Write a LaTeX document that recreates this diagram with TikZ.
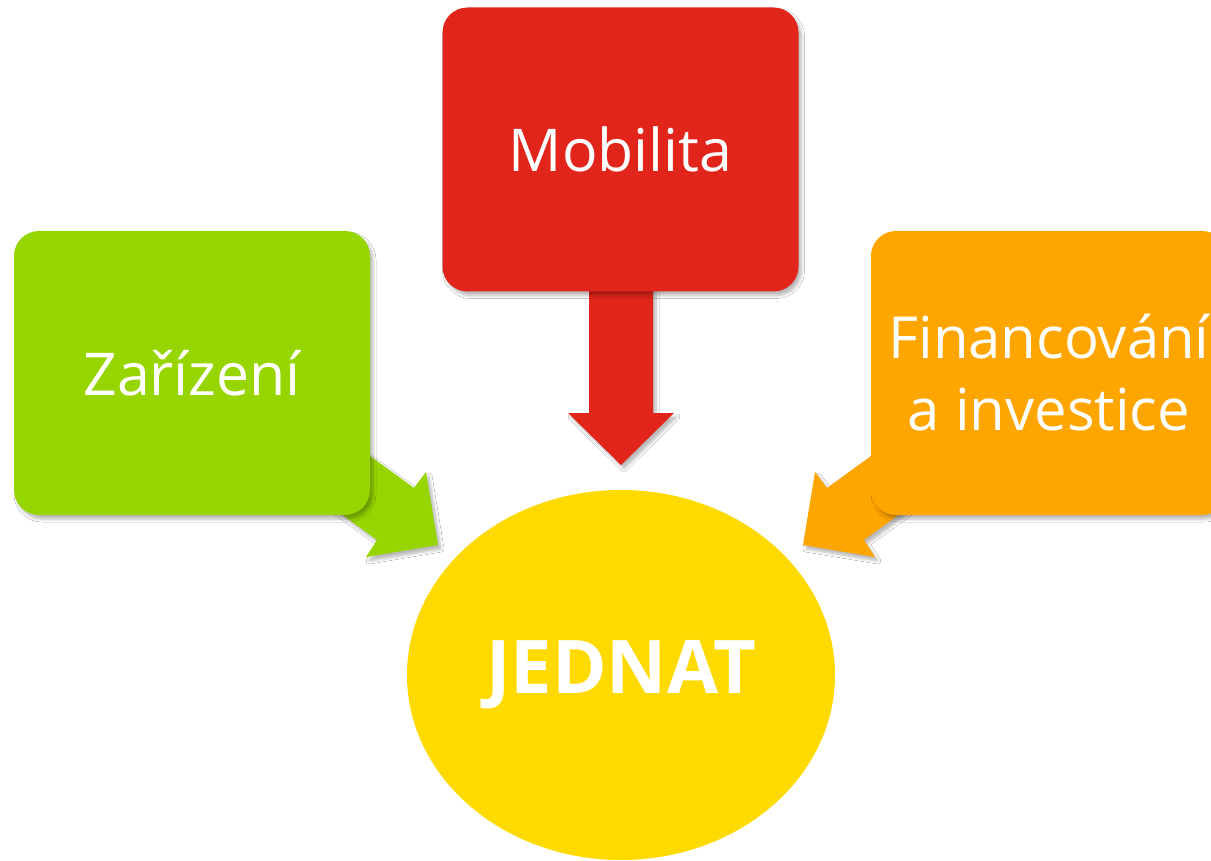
\documentclass[tikz,border=0pt]{standalone}
\usepackage{fontspec}
\setmainfont{Open Sans}
\usetikzlibrary{shapes.geometric,shadows.blur}
\definecolor{cgreen}{HTML}{96D500}
\definecolor{cred}{HTML}{E1251B}
\definecolor{corange}{HTML}{FFA500}
\definecolor{cyellow}{HTML}{FFDA00}
\begin{document}
\begin{tikzpicture}[x=1pt,y=-1pt,
  softshadow/.style={blur shadow={shadow xshift=3pt, shadow yshift=-4pt, shadow blur radius=3pt, shadow blur steps=6, shadow opacity=28}},
  box/.style={rounded corners=25pt, text=white, font=\fontsize{59}{72}\selectfont, align=center, inner sep=0pt, minimum width=356pt, minimum height=284pt, softshadow},
  blockarrow/.style={softshadow}]
\useasboundingbox (0,0) rectangle (1211,861);
\fill[white] (0,0) rectangle (1211,861);
% block arrows (behind boxes)
\fill[cgreen, blockarrow] (333,429) -- (414,488) -- (426,472) -- (438,545) -- (366,557) -- (377,540) -- (296,481) -- cycle;
\fill[corange, blockarrow] (908,429) -- (827,488) -- (815,472) -- (803,545) -- (875,557) -- (864,540) -- (945,481) -- cycle;
\fill[cred, blockarrow] (589,250) -- (653,250) -- (653,413) -- (674,413) -- (621,465) -- (568,413) -- (589,413) -- cycle;
% boxes
\node[box, fill=cgreen] (zar) at (192,373) {Zařízení};
\node[box, fill=cred] (mob) at (620.5,149.5) {Mobilita};
\node[box, fill=corange, font=\fontsize{58}{72}\selectfont] (fin) at (1049,373) {Financování\\a investice};
% ellipse
\node[ellipse, fill=cyellow, minimum width=428pt, minimum height=370pt, inner sep=0pt, text=white, font=\fontsize{74}{80}\selectfont\bfseries] (jed) at (621,675) {JEDNAT};
\end{tikzpicture}
\end{document}
